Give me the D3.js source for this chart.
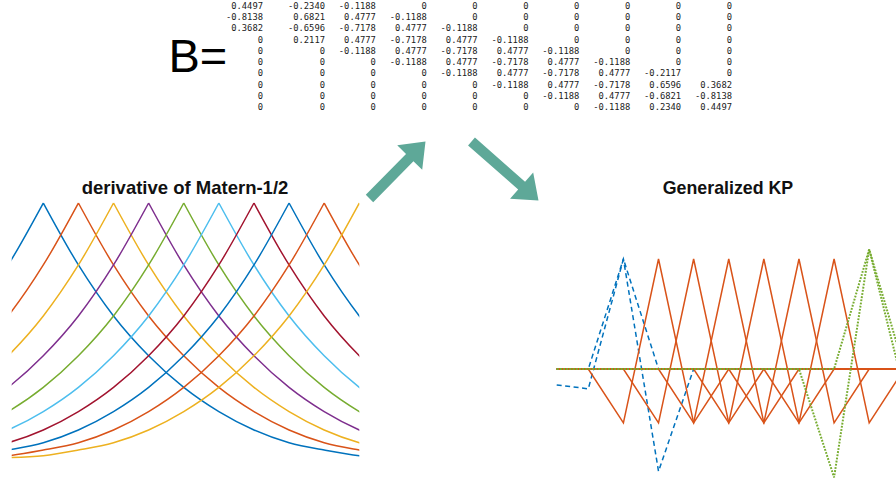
<!DOCTYPE html>
<html><head><meta charset="utf-8">
<script src="https://cdn.jsdelivr.net/npm/d3@7"></script>
<style>html,body{margin:0;padding:0;background:#fff;}svg{display:block;}</style>
</head><body>
<svg id="chart" width="896" height="484"></svg>
<script>
// ---------- DATA ----------
// B matrix (10 x 10), one named row per line
const bRow1  = [0.4497, -0.2340, -0.1188, 0, 0, 0, 0, 0, 0, 0];
const bRow2  = [-0.8138, 0.6821, 0.4777, -0.1188, 0, 0, 0, 0, 0, 0];
const bRow3  = [0.3682, -0.6596, -0.7178, 0.4777, -0.1188, 0, 0, 0, 0, 0];
const bRow4  = [0, 0.2117, 0.4777, -0.7178, 0.4777, -0.1188, 0, 0, 0, 0];
const bRow5  = [0, 0, -0.1188, 0.4777, -0.7178, 0.4777, -0.1188, 0, 0, 0];
const bRow6  = [0, 0, 0, -0.1188, 0.4777, -0.7178, 0.4777, -0.1188, 0, 0];
const bRow7  = [0, 0, 0, 0, -0.1188, 0.4777, -0.7178, 0.4777, -0.2117, 0];
const bRow8  = [0, 0, 0, 0, 0, -0.1188, 0.4777, -0.7178, 0.6596, 0.3682];
const bRow9  = [0, 0, 0, 0, 0, 0, -0.1188, 0.4777, -0.6821, -0.8138];
const bRow10 = [0, 0, 0, 0, 0, 0, 0, -0.1188, 0.2340, 0.4497];
const matrixRows = [bRow1,bRow2,bRow3,bRow4,bRow5,bRow6,bRow7,bRow8,bRow9,bRow10];

// Left panel: kernel centres and kernel profile (value vs distance from centre)
const xDomain = [0.1, 10];
const kernelCenters = [1, 2, 3, 4, 5, 6, 7, 8, 9, 10];
const kernelDist = [0, 1, 2, 3, 4, 5, 6, 7, 8, 9, 10];
const kernelVal  = [1, 0.757, 0.557, 0.401, 0.277, 0.182, 0.110, 0.060, 0.031, 0.009, 0.002];

// Right panel: generalized kernel packets sampled at the domain edge and grid points
const kpX = [0.1, 1, 2, 3, 4, 5, 6, 7, 8, 9, 10];
const kpBlueA = [0, 0, 1, -0.93, 0, 0, 0, 0, 0, 0, 0];
const kpBlueB = [-0.145, -0.18, 1, 0, 0, 0, 0, 0, 0, 0, 0];
const kpOrange1 = [0, 0, -0.49, 1, -0.49, 0, 0, 0, 0, 0, 0];
const kpOrange2 = [0, 0, 0, -0.49, 1, -0.49, 0, 0, 0, 0, 0];
const kpOrange3 = [0, 0, 0, 0, -0.49, 1, -0.49, 0, 0, 0, 0];
const kpOrange4 = [0, 0, 0, 0, 0, -0.49, 1, -0.49, 0, 0, 0];
const kpOrange5 = [0, 0, 0, 0, 0, 0, -0.49, 1, -0.49, 0, 0];
const kpOrange6 = [0, 0, 0, 0, 0, 0, 0, -0.49, 1, -0.49, 0];
const kpGreenC = [0, 0, 0, 0, 0, 0, 0, 0, -0.985, 1.088, 0];
const kpGreenD = [0, 0, 0, 0, 0, 0, 0, 0, 0, 1.088, -0.2];

const matlabColors = ["#0072BD","#D95319","#EDB120","#7E2F8E","#77AC30","#4DBEEE","#A2142F"];
const titleLeft = "derivative of Matern-1/2";
const titleRight = "Generalized KP";

// ---------- DRAW ----------
const svg = d3.select("#chart");

// "B=" label
svg.append("text").attr("x", 168.5).attr("y", 72)
  .attr("font-family", "'Liberation Sans', Arial, Helvetica, sans-serif")
  .attr("font-size", 47).attr("fill", "#000").text("B=");

// matrix (column right edges: first column set apart, then regular spacing)
const colX = d3.scaleLinear().domain([0, 1, 9]).range([263, 325, 732]);
const rowY = d3.scaleLinear().domain([0, 9]).range([8.6, 110.4]);
const fmt = v => v === 0 ? "0" : v.toFixed(4);
const mg = svg.append("g")
  .attr("font-family", "'DejaVu Sans Mono', 'Liberation Mono', monospace")
  .attr("font-size", 8.8).attr("fill", "#222").attr("text-anchor", "end");
matrixRows.forEach((row, r) => {
  row.forEach((v, c) => {
    mg.append("text").attr("x", colX(c)).attr("y", rowY(r)).text(fmt(v));
  });
});

// arrows
function arrow(x1, y1, x2, y2) {
  const dx = x2 - x1, dy = y2 - y1, L = Math.hypot(dx, dy);
  const ux = dx / L, uy = dy / L, px = -uy, py = ux;
  const hl = 22.5, hw = 17.5, sw = 5.2;
  const bx = x2 - ux * hl, by = y2 - uy * hl;
  const pts = [
    [x1 + px * sw, y1 + py * sw], [bx + px * sw, by + py * sw], [bx + px * hw, by + py * hw],
    [x2, y2], [bx - px * hw, by - py * hw], [bx - px * sw, by - py * sw], [x1 - px * sw, y1 - py * sw]
  ];
  svg.append("path").attr("d", d3.line()(pts) + "Z").attr("fill", "#5ea898");
}
arrow(369.5, 198.5, 425.5, 141.5);
arrow(471.5, 141.5, 538.5, 200.5);

// titles
const titleFont = "'Liberation Sans', Arial, Helvetica, sans-serif";
svg.append("text").attr("x", 185).attr("y", 194).attr("text-anchor", "middle")
  .attr("font-family", titleFont).attr("font-weight", "bold").attr("font-size", 18.5)
  .attr("fill", "#111").text(titleLeft);
svg.append("text").attr("x", 728).attr("y", 194).attr("text-anchor", "middle")
  .attr("font-family", titleFont).attr("font-weight", "bold").attr("font-size", 17.8)
  .attr("fill", "#111").text(titleRight);

// ---- left panel ----
const xL = d3.scaleLinear().domain(xDomain).range([11.7, 359.3]);
const yL = d3.scaleLinear().domain([0, 1]).range([458, 203]);
svg.append("clipPath").attr("id", "clipL").append("rect")
  .attr("x", xL(xDomain[0])).attr("y", 150).attr("width", xL(xDomain[1]) - xL(xDomain[0])).attr("height", 334);
const gL = svg.append("g").attr("clip-path", "url(#clipL)");
const lineL = d3.line().x(d => xL(d[0])).y(d => yL(d[1])).curve(d3.curveMonotoneX);
kernelCenters.forEach((c, i) => {
  const leftSide = kernelDist.map((d, k) => [c - d, kernelVal[k]]).reverse();
  const rightSide = kernelDist.map((d, k) => [c + d, kernelVal[k]]);
  gL.append("path").attr("d", lineL(leftSide) + lineL(rightSide))
    .attr("fill", "none").attr("stroke", matlabColors[i % matlabColors.length])
    .attr("stroke-width", 1.5).attr("stroke-linejoin", "miter");
});

// ---- right panel ----
const xR = d3.scaleLinear().domain(xDomain).range([556.7, 904.3]);
const yR = d3.scaleLinear().domain([0, 1]).range([369, 259]);
const lineR = d3.line().x((d, k) => xR(kpX[k])).y(d => yR(d));
const gR = svg.append("g").attr("fill", "none");
[kpBlueA, kpBlueB].forEach(s => {
  gR.append("path").attr("d", lineR(s)).attr("stroke", matlabColors[0])
    .attr("stroke-width", 1.5).attr("stroke-dasharray", "5,3.5");
});
[kpOrange1, kpOrange2, kpOrange3, kpOrange4, kpOrange5, kpOrange6].forEach(s => {
  gR.append("path").attr("d", lineR(s)).attr("stroke", matlabColors[1])
    .attr("stroke-width", 1.5);
});
[kpGreenC, kpGreenD].forEach(s => {
  gR.append("path").attr("d", lineR(s)).attr("stroke", matlabColors[4])
    .attr("stroke-width", 2).attr("stroke-dasharray", "1.8,1.4");
});
</script>
</body></html>
